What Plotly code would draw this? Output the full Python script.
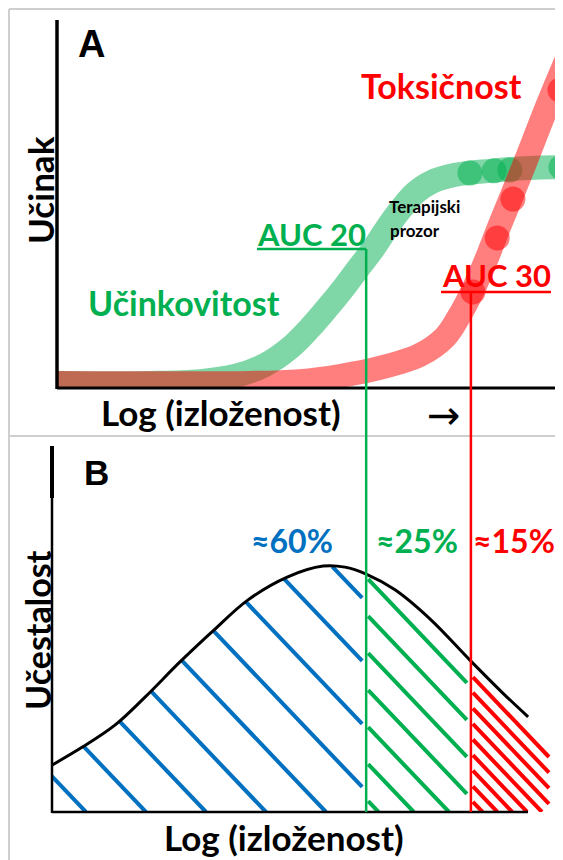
import numpy as np
import plotly.graph_objects as go

# ---------------- data ----------------
# Panel A: effect (%) versus log exposure (arbitrary units 0..10)
exposure_eff = [0.0, 1.84, 2.83, 3.52, 4.11, 4.60, 5.00, 5.34, 5.63, 5.93, 6.23,
                6.52, 6.78, 7.08, 7.41, 7.87, 8.56, 9.35, 10.0]
effect_eff = [1.1, 1.1, 1.6, 3.0, 6.0, 10.6, 16.1, 21.5, 26.4, 31.9, 37.3,
              43.3, 48.2, 52.9, 55.9, 57.8, 58.9, 59.7, 59.9]
exposure_tox = [0.0, 3.81, 4.80, 5.59, 6.38, 7.17, 7.67, 7.96, 8.22, 8.48, 8.75,
                9.05, 9.35, 9.64, 9.86, 10.0, 10.24]
effect_tox = [1.1, 1.1, 1.6, 3.0, 5.2, 8.7, 13.6, 19.6, 26.4, 34.6, 44.1,
              54.2, 64.6, 74.9, 82.3, 86.9, 94.6]
eff_dots_x = [8.16, 8.64, 8.95, 9.96]
eff_dots_y = [58.3, 58.9, 59.1, 59.9]
tox_dots_x = [8.22, 8.70, 9.01, 9.94]
tox_dots_y = [25.9, 40.6, 51.2, 80.9]
auc20 = 6.11
auc30 = 8.18

# Panel B: frequency of the population versus log exposure
exposure_pop = [-0.10, 0.51, 1.15, 1.74, 2.43, 3.10, 3.77, 4.55, 5.26, 5.69, 6.11,
                6.68, 7.39, 8.16, 8.81, 9.31]
freq_pop = [0.128, 0.178, 0.238, 0.314, 0.410, 0.497, 0.579, 0.642, 0.672, 0.669,
            0.650, 0.607, 0.525, 0.415, 0.325, 0.260]
share_labels = ["≈60%", "≈25%", "≈15%"]

# ---------------- geometry / style ----------------
OFF = 8                      # page body margin
W, H = 563 - OFF, 860 - OFF  # figure size
AX_LEFT, PX_PER_X = 57, 50.6
A_TOP, A_BOT = 20, 387
B_LEFT, B_RIGHT, B_TOP, B_BOT = 52, 552, 446, 812
GREEN, RED, BLUE = "#00B050", "#FF0000", "#0070C0"
GREEN_T, RED_T = "rgba(0,176,80,0.5)", "rgba(255,0,0,0.5)"
FONT = "Lato"


def xpx(xd):
    return AX_LEFT + np.asarray(xd) * PX_PER_X


def xdat(px):
    return (np.asarray(px) - AX_LEFT) / PX_PER_X


def ybdat(py):
    return (B_BOT - np.asarray(py)) / (B_BOT - B_TOP)


def ybpx(yd):
    return B_BOT - np.asarray(yd) * (B_BOT - B_TOP)


def pxp(px):
    return (px - OFF) / W


def pyp(py):
    return 1 - (py - OFF) / H


def curve_px(xp):
    return ybpx(np.interp(xdat(xp), exposure_pop, freq_pop))


SLOPE = 1.05


def hatch(starts, x_lo, x_hi, use_curve=True):
    xs_all, ys_all = [], []
    xs = np.linspace(x_lo, x_hi, 3000)
    for (x0, y0) in starts:
        ys = y0 + SLOPE * (xs - x0)
        m = ys <= B_BOT
        if use_curve:
            m &= ys >= curve_px(xs)
        if m.sum() < 2:
            continue
        xa, xb = xs[m][0], xs[m][-1]
        ya, yb = y0 + SLOPE * (xa - x0), y0 + SLOPE * (xb - x0)
        xs_all += [float(xdat(xa)), float(xdat(xb)), None]
        ys_all += [float(ybdat(ya)), float(ybdat(yb)), None]
    return xs_all, ys_all


x20, x30 = float(xpx(auc20)), float(xpx(auc30))
blue_starts = [(86 + 60 * k, B_BOT) for k in range(9)]
green_starts = [(x20, 577 + 37 * k) for k in range(7)]
red_starts = [(x30, 675 + 15.6 * k) for k in range(9)]

fig = go.Figure()

# Panel A bands
fig.add_trace(go.Scatter(x=exposure_eff, y=effect_eff, mode="lines",
                         line=dict(color=GREEN_T, width=24, shape="spline"),
                         xaxis="x", yaxis="y", hoverinfo="skip"))
fig.add_trace(go.Scatter(x=eff_dots_x, y=eff_dots_y, mode="markers",
                         marker=dict(color=GREEN_T, size=25),
                         xaxis="x", yaxis="y", hoverinfo="skip"))
fig.add_trace(go.Scatter(x=exposure_tox, y=effect_tox, mode="lines",
                         line=dict(color=RED_T, width=24, shape="spline"),
                         xaxis="x", yaxis="y", hoverinfo="skip"))
fig.add_trace(go.Scatter(x=tox_dots_x, y=tox_dots_y, mode="markers",
                         marker=dict(color=RED_T, size=25),
                         xaxis="x", yaxis="y", hoverinfo="skip"))

# Panel B hatching
for starts, lo, hi, col, cur in [(blue_starts, 52, x20 - 4, BLUE, True),
                                 (green_starts, x20 + 2, x30 - 4, GREEN, True),
                                 (red_starts, x30 + 2, 549, RED, False)]:
    hx, hy = hatch(starts, lo, hi, cur)
    fig.add_trace(go.Scatter(x=hx, y=hy, mode="lines",
                             line=dict(color=col, width=4),
                             xaxis="x2", yaxis="y2", hoverinfo="skip"))

# bell curve
fig.add_trace(go.Scatter(x=exposure_pop, y=freq_pop, mode="lines",
                         line=dict(color="black", width=3, shape="spline"),
                         xaxis="x2", yaxis="y2", hoverinfo="skip"))

shapes = []


def seg(x0, y0, x1, y1, color, width):
    shapes.append(dict(type="line", xref="paper", yref="paper",
                       x0=pxp(x0), y0=pyp(y0), x1=pxp(x1), y1=pyp(y1),
                       line=dict(color=color, width=width)))


# light frame
seg(9, 9, 563, 9, "#cfcfcf", 2)
seg(9, 9, 9, 860, "#cfcfcf", 2)
seg(9, 436, 563, 436, "#cfcfcf", 2)
# panel A axes
seg(AX_LEFT, A_TOP, AX_LEFT, A_BOT + 2, "black", 3.5)
seg(AX_LEFT, A_BOT + 1, 563, A_BOT + 1, "black", 3)
# panel B axes
seg(B_LEFT, B_TOP, B_LEFT, 498, "black", 4)
seg(B_LEFT, 498, B_LEFT, B_BOT + 1, "black", 2.5)
seg(B_LEFT, B_BOT, 528, B_BOT, "black", 2.5)
# thresholds
seg(257, 249, x20, 249, GREEN, 2.5)
seg(x20, 249, x20, B_BOT, GREEN, 2.5)
seg(441, 292, 551, 292, RED, 2.5)
seg(x30, 292, x30, B_BOT, RED, 2.5)

ann = []


def label(text, x, y, color="black", size=34, family=FONT, angle=0, bold=True):
    ann.append(dict(text=f"<b>{text}</b>" if bold else text, x=pxp(x), y=pyp(y),
                    xref="paper", yref="paper", showarrow=False,
                    xanchor="center", yanchor="middle", textangle=angle,
                    font=dict(family=family, size=size, color=color)))


label("A", 91, 44, size=38, family="Liberation Sans")
label("Učinak", 40, 190, angle=-90, size=35)
label("Log (izloženost)", 221, 412, size=35)
label("→", 444, 415, size=40, family="DejaVu Sans", bold=False)
label("Toksičnost", 441, 85, color=RED)
label("Učinkovitost", 184, 302, color=GREEN)
label("AUC 20", 311, 234, color=GREEN, size=31)
label("AUC 30", 496, 275, color=RED, size=31)
label("Terapijski", 424, 206, size=17)
label("prozor", 415, 230, size=17)
label("B", 96, 472, size=35, family="Liberation Sans")
label("Učestalost", 37, 630, angle=-90, size=34)
label("Log (izloženost)", 284, 837, size=35)
for txt, xc, col in zip(share_labels, [292, 417, 514], [BLUE, GREEN, RED]):
    label(txt, xc, 540, color=col, size=32)

ax_common = dict(showgrid=False, zeroline=False, showticklabels=False,
                 ticks="", showline=False, fixedrange=True)
fig.update_layout(
    width=W, height=H, margin=dict(l=0, r=0, t=0, b=0),
    paper_bgcolor="white", plot_bgcolor="white", showlegend=False,
    xaxis=dict(domain=[pxp(AX_LEFT), 1], range=[0, float(xdat(563))], **ax_common),
    yaxis=dict(domain=[pyp(A_BOT), pyp(A_TOP)], range=[0, 100], **ax_common),
    xaxis2=dict(domain=[pxp(B_LEFT), pxp(B_RIGHT)],
                range=[float(xdat(B_LEFT)), float(xdat(B_RIGHT))], **ax_common),
    yaxis2=dict(domain=[pyp(B_BOT), pyp(B_TOP)], range=[0, 1], **ax_common),
    shapes=shapes, annotations=ann,
)

fig.write_html("out.html")
